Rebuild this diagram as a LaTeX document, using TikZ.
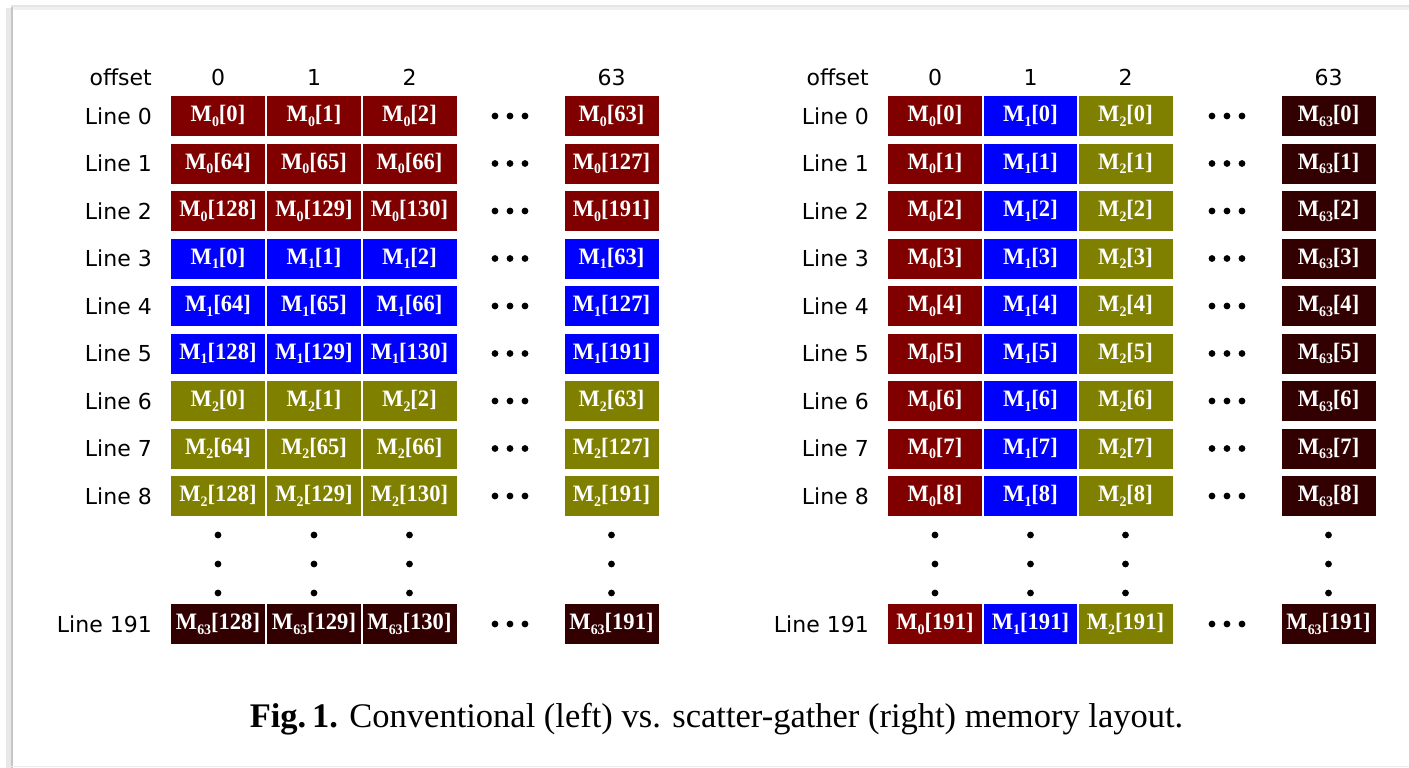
\documentclass[tikz,border=0pt]{standalone}
\usepackage{fontspec}
\setmainfont{Liberation Serif}
\newfontfamily\labelfont{DejaVu Sans}

% fill colours of the four arrays
\definecolor{memG0}{RGB}{128,0,0}
\definecolor{memG1}{RGB}{0,0,255}
\definecolor{memG2}{RGB}{128,128,0}
\definecolor{memG63}{RGB}{50,0,0}

% element label M_k[i]
\newcommand{\Mx}[2]{\scalebox{0.96}[1]{M\raisebox{-4.5pt}{\fontsize{14.5pt}{14.5pt}\selectfont #1}[#2]}}

\begin{document}
\begin{tikzpicture}[x=1pt, y=-1pt,
  cell/.style={rectangle, minimum width=95.5pt, minimum height=41.5pt,
    draw=white, line width=1.5pt, text=white, inner sep=0pt,
    font=\fontsize{23.5pt}{25pt}\selectfont\bfseries},
  lbl/.style={font=\labelfont\fontsize{22pt}{25pt}\selectfont, inner sep=0pt},
  dotfill/.style={fill=black}]

\useasboundingbox (0,0) rectangle (1409,768);
\fill[white] (0,0) rectangle (1409,768);

% page frame with soft edge
\draw[gray!12, line width=4pt] (11,8) -- (1409,8);
\draw[gray!18, line width=5pt] (8,768) -- (8,8);
\draw[gray!45, line width=2pt] (11.5,768) -- (11.5,6);
\draw[gray!20, line width=1.5pt] (11,6) -- (1409,6);
\draw[gray!15, line width=1.5pt] (11,766.5) -- (1409,766.5);

% ---------------- conventional layout (left) ----------------
\node[lbl, anchor=east] (lofs) at (152,77) {offset};
\node[lbl] (lh0) at (218,77) {0};
\node[lbl] (lh1) at (314,77) {1};
\node[lbl] (lh2) at (409.5,77) {2};
\node[lbl] (lh3) at (611.5,77) {63};

\foreach \r in {0,...,8}{
  \pgfmathtruncatemacro\g{int(\r/3)}
  \pgfmathtruncatemacro\b{64*mod(\r,3)}
  \pgfmathtruncatemacro\ib{\b+1}
  \pgfmathtruncatemacro\ic{\b+2}
  \pgfmathtruncatemacro\id{\b+63}
  \pgfmathsetmacro\y{116+47.5*\r}
  \node[lbl, anchor=east] (ll\r) at (152,\y) {Line \r};
  \node[cell, fill=memG\g] (lc\r-0) at (218,\y) {\Mx{\g}{\b}};
  \node[cell, fill=memG\g] (lc\r-1) at (314,\y) {\Mx{\g}{\ib}};
  \node[cell, fill=memG\g] (lc\r-2) at (409.5,\y) {\Mx{\g}{\ic}};
  \node[cell, fill=memG\g] (lc\r-3) at (611.5,\y) {\Mx{\g}{\id}};
  \foreach \dx in {495,510,525}{\fill[dotfill] (\dx,\y) circle (3.4pt);}
}

\foreach \cx in {218,314,409.5,611.5}{
  \foreach \dy in {535,564,593}{\fill[dotfill] (\cx,\dy) circle (3.4pt);}
}

\node[lbl, anchor=east] (llast) at (152,624) {Line 191};
\node[cell, fill=memG63] (lclast-0) at (218,624) {\Mx{63}{128}};
\node[cell, fill=memG63] (lclast-1) at (314,624) {\Mx{63}{129}};
\node[cell, fill=memG63] (lclast-2) at (409.5,624) {\Mx{63}{130}};
\node[cell, fill=memG63] (lclast-3) at (611.5,624) {\Mx{63}{191}};
\foreach \dx in {495,510,525}{\fill[dotfill] (\dx,624) circle (3.4pt);}

% ---------------- scatter-gather layout (right) ----------------
\node[lbl, anchor=east] (rofs) at (869,77) {offset};
\node[lbl] (rh0) at (935,77) {0};
\node[lbl] (rh1) at (1030.5,77) {1};
\node[lbl] (rh2) at (1125.5,77) {2};
\node[lbl] (rh3) at (1328.5,77) {63};

\foreach \r in {0,...,8}{
  \pgfmathsetmacro\y{116+47.5*\r}
  \node[lbl, anchor=east] (rl\r) at (869,\y) {Line \r};
  \node[cell, fill=memG0] (rc\r-0) at (935,\y) {\Mx{0}{\r}};
  \node[cell, fill=memG1] (rc\r-1) at (1030.5,\y) {\Mx{1}{\r}};
  \node[cell, fill=memG2] (rc\r-2) at (1125.5,\y) {\Mx{2}{\r}};
  \node[cell, fill=memG63] (rc\r-3) at (1328.5,\y) {\Mx{63}{\r}};
  \foreach \dx in {1212,1227,1242}{\fill[dotfill] (\dx,\y) circle (3.4pt);}
}

\foreach \cx in {935,1030.5,1125.5,1328.5}{
  \foreach \dy in {535,564,593}{\fill[dotfill] (\cx,\dy) circle (3.4pt);}
}

\node[lbl, anchor=east] (rlast) at (869,624) {Line 191};
\node[cell, fill=memG0] (rclast-0) at (935,624) {\Mx{0}{191}};
\node[cell, fill=memG1] (rclast-1) at (1030.5,624) {\Mx{1}{191}};
\node[cell, fill=memG2] (rclast-2) at (1125.5,624) {\Mx{2}{191}};
\node[cell, fill=memG63] (rclast-3) at (1328.5,624) {\Mx{63}{191}};
\foreach \dx in {1212,1227,1242}{\fill[dotfill] (\dx,624) circle (3.4pt);}

% ---------------- caption ----------------
\node[anchor=base, inner sep=0pt, font=\fontsize{34.5pt}{40pt}\selectfont] (cap) at (716.5,727)
  {\textbf{Fig.\,1.} Conventional (left) vs. scatter-gather (right) memory layout.};

\end{tikzpicture}
\end{document}
